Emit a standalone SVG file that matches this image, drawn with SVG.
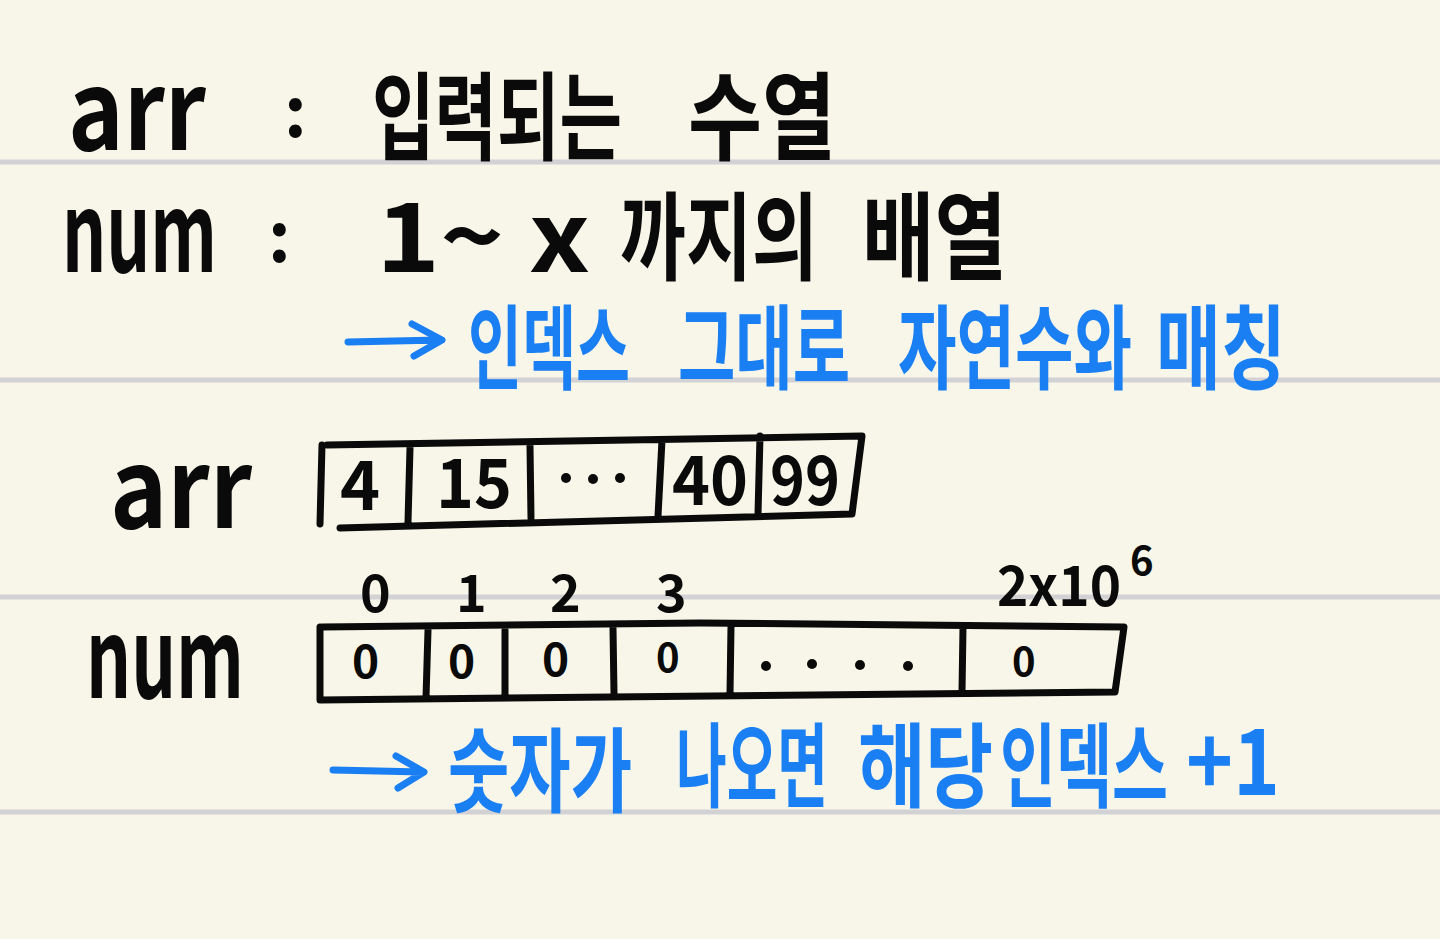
<svg xmlns="http://www.w3.org/2000/svg" width="1440" height="939" viewBox="0 0 1440 939">
<style>
.k{font-family:"Noto Sans CJK KR","Noto Sans",sans-serif;font-weight:700;fill:#0a0a0a}
.b{font-family:"Noto Sans CJK KR","Noto Sans",sans-serif;font-weight:700;fill:#1a7ff2}
.ln{stroke:#d2d1d3;stroke-width:5}
.bx{fill:none;stroke:#0a0a0a;stroke-width:7;stroke-linecap:round;stroke-linejoin:round}
.ar{fill:none;stroke:#1a7ff2;stroke-width:7;stroke-linecap:round;stroke-linejoin:round}
</style>
<rect width="1440" height="939" fill="#f8f6e9"/>
<g id="ruled-lines">
<line class="ln" x1="0" y1="162" x2="1440" y2="162"/>
<line class="ln" x1="0" y1="380" x2="1440" y2="380"/>
<line class="ln" x1="0" y1="597" x2="1440" y2="597"/>
<line class="ln" x1="0" y1="812" x2="1440" y2="812"/>
</g>
<g id="def-arr">
<text class="k" x="68" y="150" font-size="110" textLength="138" lengthAdjust="spacingAndGlyphs">arr</text>
<text class="k" x="284" y="137" font-size="70">:</text>
<text class="k" x="372" y="152" font-size="96" textLength="250" lengthAdjust="spacingAndGlyphs">입력되는</text>
<text class="k" x="688" y="152" font-size="96" textLength="148" lengthAdjust="spacingAndGlyphs">수열</text>
</g>
<g id="def-num">
<text class="k" x="62" y="272" font-size="110" textLength="155" lengthAdjust="spacingAndGlyphs">num</text>
<text class="k" x="268" y="262" font-size="70">:</text>
<text class="k" x="376" y="272" font-size="96" textLength="214" lengthAdjust="spacingAndGlyphs">1~ x</text>
<text class="k" x="620" y="272" font-size="96" textLength="198" lengthAdjust="spacingAndGlyphs">까지의</text>
<text class="k" x="862" y="272" font-size="96" textLength="145" lengthAdjust="spacingAndGlyphs">배열</text>
</g>
<g id="note-index">
<path class="ar" d="M348 342 L440 340 M412 324 L442 340 L414 356"/>
<text class="b" x="468" y="382" font-size="92" textLength="162" lengthAdjust="spacingAndGlyphs">인덱스</text>
<text class="b" x="678" y="382" font-size="92" textLength="172" lengthAdjust="spacingAndGlyphs">그대로</text>
<text class="b" x="898" y="382" font-size="92" textLength="234" lengthAdjust="spacingAndGlyphs">자연수와</text>
<text class="b" x="1156" y="382" font-size="92" textLength="130" lengthAdjust="spacingAndGlyphs">매칭</text>
</g>
<g id="arr-array">
<text class="k" x="110" y="528" font-size="110" textLength="142" lengthAdjust="spacingAndGlyphs">arr</text>
<path class="bx" d="M327 445 L862 436 L852 514 L340 528 M322 445 L320 524 M410 448 L408 522 M530 446 L531 518 M662 440 L658 516 M760 436 L758 514"/>
<text class="k" x="340" y="510" font-size="68">4</text>
<text class="k" x="436" y="508" font-size="68" textLength="76" lengthAdjust="spacingAndGlyphs">15</text>
<g fill="#0a0a0a"><circle cx="566" cy="478" r="5"/><circle cx="593" cy="479" r="5"/><circle cx="620" cy="478" r="5"/></g>
<text class="k" x="672" y="505" font-size="68" textLength="76" lengthAdjust="spacingAndGlyphs">40</text>
<text class="k" x="770" y="505" font-size="68" textLength="70" lengthAdjust="spacingAndGlyphs">99</text>
</g>
<g id="num-array">
<text class="k" x="86" y="698" font-size="110" textLength="158" lengthAdjust="spacingAndGlyphs">num</text>
<text class="k" x="360" y="612" font-size="52">0</text>
<text class="k" x="456" y="612" font-size="52">1</text>
<text class="k" x="550" y="612" font-size="52">2</text>
<text class="k" x="656" y="612" font-size="52">3</text>
<text class="k" x="997" y="606" font-size="56" textLength="124" lengthAdjust="spacingAndGlyphs">2x10</text>
<text class="k" x="1130" y="575" font-size="40">6</text>
<path class="bx" d="M322 627 L700 623 L1124 627 L1115 692 L320 700 M320 627 L320 700 M428 630 L426 698 M505 630 L505 696 M613 628 L614 694 M731 626 L730 694 M963 627 L962 692"/>
<text class="k" x="352" y="678" font-size="46">0</text>
<text class="k" x="448" y="678" font-size="46">0</text>
<text class="k" x="542" y="676" font-size="46">0</text>
<text class="k" x="656" y="672" font-size="40">0</text>
<g fill="#0a0a0a"><circle cx="766" cy="666" r="5"/><circle cx="812" cy="664" r="5"/><circle cx="860" cy="665" r="5"/><circle cx="908" cy="666" r="5"/></g>
<text class="k" x="1012" y="676" font-size="40">0</text>
</g>
<g id="note-count">
<path class="ar" d="M333 770 L422 772 M396 756 L424 772 L398 788"/>
<text class="b" x="448" y="805" font-size="92" textLength="184" lengthAdjust="spacingAndGlyphs">숫자가</text>
<text class="b" x="676" y="800" font-size="92" textLength="152" lengthAdjust="spacingAndGlyphs">나오면</text>
<text class="b" x="858" y="800" font-size="92" textLength="135" lengthAdjust="spacingAndGlyphs">해당</text>
<text class="b" x="1000" y="800" font-size="92" textLength="168" lengthAdjust="spacingAndGlyphs">인덱스</text>
<text class="b" x="1186" y="795" font-size="92" textLength="94" lengthAdjust="spacingAndGlyphs">+1</text>
</g>
</svg>
